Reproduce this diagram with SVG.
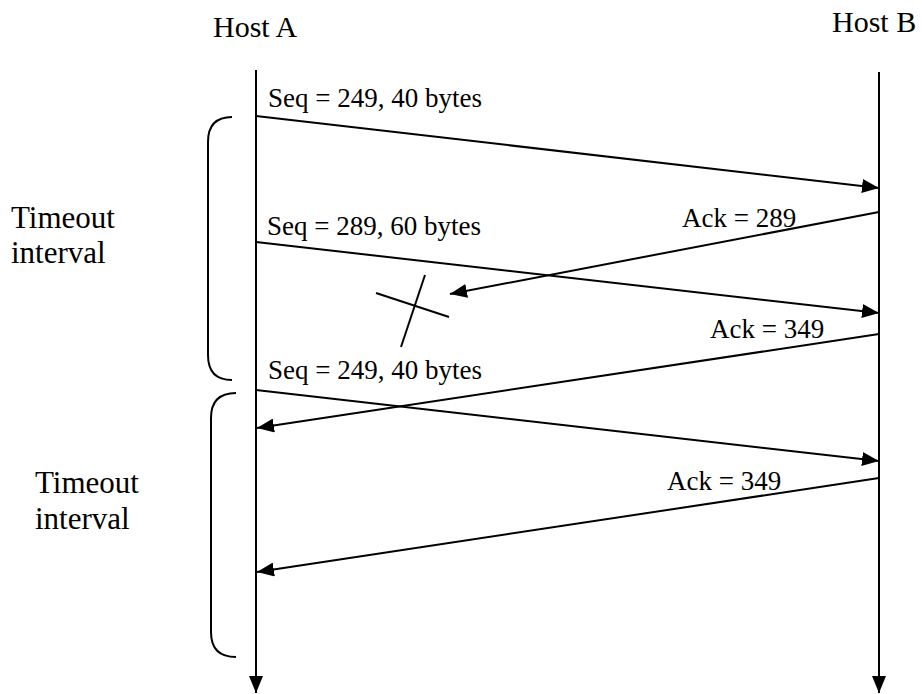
<svg xmlns="http://www.w3.org/2000/svg" width="922" height="694" viewBox="0 0 922 694">
<style>
text{font-family:"Liberation Serif","Times New Roman",serif;fill:#000}
.lbl{font-size:27px}
.host{font-size:30px}
.tmo{font-size:31px}
.ln{stroke:#000;stroke-width:2;fill:none}
</style>
<defs>
<marker id="ah" markerWidth="17" markerHeight="14" refX="17" refY="7" orient="auto" markerUnits="userSpaceOnUse">
<path d="M0,0 L17,7 L0,14 Z" fill="#000"/>
</marker>
</defs>
<g id="hostA">
<text class="host" x="213" y="37">Host A</text>
<line class="ln" x1="256" y1="70" x2="256" y2="693" marker-end="url(#ah)"/>
</g>
<g id="hostB">
<text class="host" x="832" y="32">Host B</text>
<line class="ln" x1="879" y1="72" x2="879" y2="693" marker-end="url(#ah)"/>
</g>
<g id="timeout1">
<path class="ln" d="M232,117 Q208,117 208,142 L208,355 Q208,380 232,380"/>
<text class="tmo" x="11" y="228">Timeout</text>
<text class="tmo" x="11" y="263">interval</text>
</g>
<g id="timeout2">
<path class="ln" d="M236,393 Q211,393 211,418 L211,632 Q211,657 236,657"/>
<text class="tmo" x="35" y="493">Timeout</text>
<text class="tmo" x="35" y="529">interval</text>
</g>
<g id="loss">
<line class="ln" x1="376" y1="293" x2="449" y2="317"/>
<line class="ln" x1="425" y1="275" x2="401" y2="347"/>
</g>
<g id="labels">
<text class="lbl" x="268" y="107">Seq = 249, 40 bytes</text>
<text class="lbl" x="267" y="235">Seq = 289, 60 bytes</text>
<text class="lbl" x="268" y="379">Seq = 249, 40 bytes</text>
<text class="lbl" x="682" y="227">Ack = 289</text>
<text class="lbl" x="710" y="338">Ack = 349</text>
<text class="lbl" x="667" y="490">Ack = 349</text>
</g>
<g id="connectors">
<line class="ln" x1="256" y1="116" x2="879" y2="188" marker-end="url(#ah)"/>
<line class="ln" x1="879" y1="212" x2="450" y2="294" marker-end="url(#ah)"/>
<line class="ln" x1="256" y1="242" x2="879" y2="313" marker-end="url(#ah)"/>
<line class="ln" x1="879" y1="334" x2="257" y2="428" marker-end="url(#ah)"/>
<line class="ln" x1="256" y1="390" x2="879" y2="461" marker-end="url(#ah)"/>
<line class="ln" x1="879" y1="478" x2="257" y2="572" marker-end="url(#ah)"/>
</g>
</svg>
